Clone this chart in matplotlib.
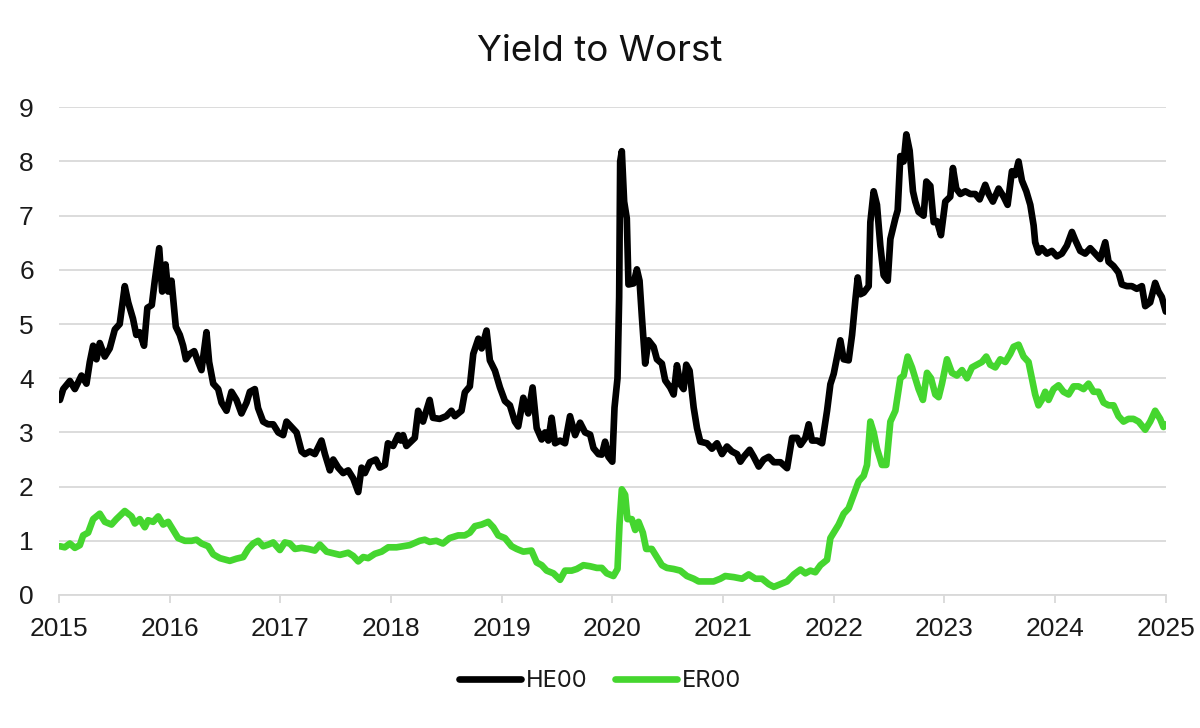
import matplotlib.pyplot as plt

# Dates as decimal years, yields in percent
he00_dates = [
    2015.01, 2015.04, 2015.10, 2015.145, 2015.205, 2015.25, 2015.28, 2015.31, 2015.34, 2015.37,
    2015.415, 2015.46, 2015.506, 2015.55, 2015.596, 2015.627, 2015.67, 2015.70, 2015.73, 2015.77,
    2015.80, 2015.84, 2015.867, 2015.907, 2015.934, 2015.964, 2015.988, 2016.018, 2016.057, 2016.093,
    2016.123, 2016.148, 2016.184, 2016.223, 2016.259, 2016.289, 2016.334, 2016.358, 2016.395, 2016.44,
    2016.47, 2016.515, 2016.56, 2016.605, 2016.65, 2016.696, 2016.726, 2016.771, 2016.80, 2016.846,
    2016.89, 2016.937, 2016.982, 2017.027, 2017.057, 2017.102, 2017.148, 2017.193, 2017.223, 2017.268,
    2017.313, 2017.373, 2017.404, 2017.449, 2017.479, 2017.524, 2017.569, 2017.614, 2017.66, 2017.705,
    2017.735, 2017.765, 2017.81, 2017.864, 2017.90, 2017.946, 2017.973, 2018.02, 2018.066, 2018.09,
    2018.11, 2018.14, 2018.216, 2018.246, 2018.29, 2018.35, 2018.38, 2018.44, 2018.50, 2018.547,
    2018.578, 2018.638, 2018.668, 2018.713, 2018.744, 2018.79, 2018.82, 2018.864, 2018.894, 2018.94,
    2018.985, 2019.03, 2019.075, 2019.12, 2019.15, 2019.196, 2019.241, 2019.28, 2019.317, 2019.362,
    2019.392, 2019.422, 2019.452, 2019.483, 2019.528, 2019.573, 2019.618, 2019.664, 2019.709, 2019.754,
    2019.80, 2019.83, 2019.875, 2019.905, 2019.935, 2019.965, 2020.0, 2020.02, 2020.047, 2020.062,
    2020.071, 2020.086, 2020.107, 2020.131, 2020.146, 2020.192, 2020.222, 2020.246, 2020.267, 2020.297,
    2020.327, 2020.373, 2020.403, 2020.448, 2020.478, 2020.523, 2020.554, 2020.584, 2020.614, 2020.644,
    2020.668, 2020.698, 2020.735, 2020.765, 2020.795, 2020.855, 2020.90, 2020.946, 2020.991, 2021.036,
    2021.08, 2021.127, 2021.157, 2021.187, 2021.241, 2021.278, 2021.323, 2021.368, 2021.413, 2021.459,
    2021.519, 2021.579, 2021.624, 2021.67, 2021.70, 2021.744, 2021.774, 2021.804, 2021.85, 2021.895,
    2021.94, 2021.97, 2022.0, 2022.03, 2022.06, 2022.09, 2022.135, 2022.166, 2022.196, 2022.217,
    2022.241, 2022.271, 2022.316, 2022.331, 2022.361, 2022.391, 2022.421, 2022.451, 2022.488, 2022.512,
    2022.557, 2022.578, 2022.602, 2022.632, 2022.656, 2022.686, 2022.716, 2022.737, 2022.767, 2022.812,
    2022.837, 2022.873, 2022.903, 2022.933, 2022.969, 2023.008, 2023.053, 2023.077, 2023.107, 2023.144,
    2023.189, 2023.234, 2023.279, 2023.318, 2023.369, 2023.40, 2023.438, 2023.49, 2023.535, 2023.571,
    2023.61, 2023.64, 2023.67, 2023.70, 2023.74, 2023.776, 2023.806, 2023.82, 2023.85, 2023.88,
    2023.926, 2023.971, 2024.016, 2024.061, 2024.107, 2024.152, 2024.182, 2024.227, 2024.272, 2024.317,
    2024.362, 2024.407, 2024.453, 2024.483, 2024.528, 2024.573, 2024.603, 2024.648, 2024.693, 2024.738,
    2024.784, 2024.814, 2024.859, 2024.904, 2024.934, 2024.964, 2025.0,
]
he00_values = [
    3.6, 3.8, 3.95, 3.8, 4.05, 3.9, 4.3, 4.6, 4.35, 4.65,
    4.4, 4.55, 4.9, 5.0, 5.7, 5.4, 5.1, 4.8, 4.85, 4.6,
    5.3, 5.35, 5.8, 6.4, 5.6, 6.1, 5.6, 5.8, 4.95, 4.8,
    4.6, 4.35, 4.45, 4.5, 4.3, 4.15, 4.85, 4.3, 3.9, 3.8,
    3.55, 3.4, 3.75, 3.6, 3.35, 3.55, 3.75, 3.8, 3.45, 3.2,
    3.15, 3.15, 3.0, 2.95, 3.2, 3.1, 3.0, 2.65, 2.6, 2.65,
    2.6, 2.85, 2.6, 2.3, 2.5, 2.35, 2.25, 2.3, 2.15, 1.9,
    2.35, 2.25, 2.45, 2.5, 2.35, 2.4, 2.8, 2.75, 2.95, 2.85,
    2.95, 2.75, 2.9, 3.4, 3.2, 3.6, 3.27, 3.25, 3.3, 3.4,
    3.3, 3.4, 3.74, 3.85, 4.45, 4.73, 4.55, 4.88, 4.33, 4.14,
    3.83, 3.58, 3.5, 3.2, 3.11, 3.64, 3.35, 3.83, 3.08, 2.87,
    3.0, 2.85, 3.27, 2.8, 2.85, 2.8, 3.3, 2.95, 3.18, 3.0,
    2.96, 2.71, 2.6, 2.59, 2.83, 2.55, 2.46, 3.46, 4.0, 5.5,
    8.0, 8.19, 7.26, 6.95, 5.73, 5.75, 6.01, 5.8, 5.14, 4.27,
    4.7, 4.58, 4.35, 4.27, 3.96, 3.83, 3.7, 4.24, 3.89, 3.8,
    4.25, 4.14, 3.46, 3.08, 2.83, 2.8, 2.7, 2.8, 2.6, 2.74,
    2.65, 2.6, 2.46, 2.55, 2.68, 2.55, 2.37, 2.5, 2.55, 2.45,
    2.45, 2.34, 2.9, 2.9, 2.77, 2.9, 3.15, 2.85, 2.85, 2.8,
    3.4, 3.89, 4.08, 4.39, 4.7, 4.35, 4.33, 4.8, 5.45, 5.86,
    5.55, 5.58, 5.7, 6.88, 7.45, 7.2, 6.45, 5.9, 5.8, 6.57,
    6.95, 7.1, 8.1, 8.0, 8.5, 8.2, 7.45, 7.26, 7.07, 7.0,
    7.63, 7.55, 6.88, 6.9, 6.64, 7.26, 7.35, 7.88, 7.5, 7.4,
    7.45, 7.4, 7.4, 7.3, 7.57, 7.4, 7.26, 7.5, 7.35, 7.2,
    7.82, 7.75, 8.0, 7.65, 7.45, 7.2, 6.82, 6.51, 6.32, 6.4,
    6.3, 6.35, 6.25, 6.3, 6.45, 6.7, 6.55, 6.35, 6.3, 6.4,
    6.3, 6.2, 6.51, 6.15, 6.07, 5.95, 5.73, 5.7, 5.7, 5.65,
    5.7, 5.33, 5.4, 5.76, 5.6, 5.5, 5.23,
]

er00_dates = [
    2015.01, 2015.054, 2015.10, 2015.145, 2015.19, 2015.22, 2015.265, 2015.31, 2015.37, 2015.416,
    2015.476, 2015.52, 2015.596, 2015.657, 2015.687, 2015.732, 2015.777, 2015.807, 2015.852, 2015.898,
    2015.943, 2015.988, 2016.033, 2016.078, 2016.139, 2016.199, 2016.244, 2016.289, 2016.349, 2016.395,
    2016.455, 2016.545, 2016.605, 2016.666, 2016.711, 2016.756, 2016.801, 2016.846, 2016.892, 2016.937,
    2016.997, 2017.042, 2017.087, 2017.133, 2017.193, 2017.253, 2017.313, 2017.358, 2017.419, 2017.479,
    2017.539, 2017.614, 2017.66, 2017.705, 2017.75, 2017.795, 2017.855, 2017.916, 2017.976, 2018.051,
    2018.17, 2018.26, 2018.306, 2018.35, 2018.41, 2018.47, 2018.53, 2018.608, 2018.668, 2018.713,
    2018.759, 2018.82, 2018.879, 2018.925, 2018.97, 2019.03, 2019.09, 2019.136, 2019.196, 2019.27,
    2019.317, 2019.362, 2019.407, 2019.468, 2019.528, 2019.573, 2019.633, 2019.679, 2019.739, 2019.80,
    2019.86, 2019.905, 2019.95, 2020.01, 2020.047, 2020.065, 2020.086, 2020.116, 2020.137, 2020.176,
    2020.207, 2020.237, 2020.276, 2020.306, 2020.357, 2020.403, 2020.448, 2020.493, 2020.554, 2020.614,
    2020.674, 2020.735, 2020.78, 2020.84, 2020.915, 2020.976, 2021.02, 2021.097, 2021.172, 2021.232,
    2021.293, 2021.353, 2021.413, 2021.459, 2021.519, 2021.579, 2021.64, 2021.70, 2021.744, 2021.789,
    2021.834, 2021.88, 2021.94, 2021.97, 2022.0, 2022.045, 2022.09, 2022.135, 2022.181, 2022.226,
    2022.271, 2022.301, 2022.331, 2022.361, 2022.391, 2022.436, 2022.475, 2022.512, 2022.557, 2022.602,
    2022.632, 2022.668, 2022.707, 2022.737, 2022.767, 2022.806, 2022.843, 2022.879, 2022.918, 2022.948,
    2022.978, 2023.023, 2023.068, 2023.113, 2023.159, 2023.204, 2023.249, 2023.294, 2023.339, 2023.378,
    2023.414, 2023.46, 2023.505, 2023.55, 2023.595, 2023.625, 2023.67, 2023.715, 2023.76, 2023.79,
    2023.82, 2023.85, 2023.88, 2023.911, 2023.941, 2023.986, 2024.031, 2024.076, 2024.122, 2024.167,
    2024.212, 2024.257, 2024.302, 2024.347, 2024.392, 2024.438, 2024.483, 2024.528, 2024.573, 2024.618,
    2024.663, 2024.708, 2024.754, 2024.814, 2024.859, 2024.904, 2024.949, 2024.979, 2025.0,
]
er00_values = [
    0.9, 0.88, 0.95, 0.87, 0.92, 1.1, 1.15, 1.4, 1.5, 1.35,
    1.3, 1.4, 1.55, 1.45, 1.32, 1.4, 1.25, 1.38, 1.35, 1.45,
    1.3, 1.35, 1.2, 1.05, 1.0, 1.0, 1.02, 0.95, 0.9, 0.75,
    0.68, 0.63, 0.67, 0.7, 0.85, 0.95, 1.0, 0.9, 0.93, 0.97,
    0.83, 0.97, 0.95, 0.85, 0.87, 0.85, 0.82, 0.93, 0.8, 0.77,
    0.74, 0.78, 0.72, 0.62, 0.7, 0.68, 0.76, 0.8, 0.88, 0.88,
    0.92, 1.0, 1.02, 0.98, 1.0, 0.95, 1.05, 1.1, 1.1, 1.15,
    1.27, 1.3, 1.35, 1.25, 1.1, 1.05, 0.9, 0.85, 0.8, 0.82,
    0.6, 0.55, 0.45, 0.4, 0.28, 0.45, 0.45, 0.48, 0.55, 0.53,
    0.5, 0.5, 0.4, 0.35, 0.48, 1.3, 1.95, 1.85, 1.4, 1.4,
    1.2, 1.35, 1.15, 0.85, 0.85, 0.7, 0.55, 0.5, 0.48, 0.45,
    0.35, 0.3, 0.25, 0.25, 0.25, 0.3, 0.35, 0.33, 0.3, 0.38,
    0.3, 0.3, 0.2, 0.15, 0.2, 0.25, 0.38, 0.47, 0.4, 0.45,
    0.42, 0.55, 0.65, 1.05, 1.15, 1.3, 1.5, 1.6, 1.85, 2.1,
    2.2, 2.4, 3.2, 3.0, 2.7, 2.4, 2.4, 3.2, 3.4, 4.0,
    4.05, 4.4, 4.2, 4.0, 3.8, 3.6, 4.1, 4.0, 3.7, 3.65,
    3.9, 4.35, 4.1, 4.05, 4.15, 4.0, 4.2, 4.25, 4.3, 4.4,
    4.25, 4.2, 4.35, 4.3, 4.45, 4.58, 4.62, 4.4, 4.3, 4.0,
    3.7, 3.5, 3.6, 3.75, 3.6, 3.8, 3.87, 3.75, 3.7, 3.85,
    3.85, 3.8, 3.9, 3.75, 3.75, 3.55, 3.5, 3.5, 3.3, 3.2,
    3.25, 3.25, 3.2, 3.05, 3.2, 3.4, 3.25, 3.1, 3.15,
]

years = list(range(2015, 2026))
yticks = list(range(0, 10))

GREEN = "#45d62f"
GRID = "#d9d9d9"
TEXT = "#1a1a1a"

# Inter for title/legend, an Arial-like face for the axis numbers
plt.rcParams["font.family"] = ["Inter", "DejaVu Sans"]
tick_font = {"family": ["Liberation Sans", "DejaVu Sans"], "size": 19}

fig = plt.figure(figsize=(12, 7.28), dpi=100)
ax = fig.add_axes([0.049, 0.1827, 0.9225, 0.6699])

ax.plot(he00_dates, he00_values, color="black", lw=4.8, label="HE00",
        solid_joinstyle="round", solid_capstyle="round")
ax.plot(er00_dates, er00_values, color=GREEN, lw=4.8, label="ER00",
        solid_joinstyle="round", solid_capstyle="round")

ax.set_xlim(2015, 2025)
ax.set_ylim(0, 9)
ax.set_xticks(years)
ax.set_xticklabels([str(y) for y in years], fontdict=tick_font)
ax.set_yticks(yticks)
ax.set_yticklabels([str(v) for v in yticks], fontdict=tick_font)

# light horizontal grid, no frame except the bottom axis
ax.grid(axis="y", color=GRID, lw=1.3)
ax.set_axisbelow(True)
for side in ["top", "right", "left"]:
    ax.spines[side].set_visible(False)
ax.spines["bottom"].set_color(GRID)
ax.spines["bottom"].set_linewidth(1.3)
ax.tick_params(axis="x", length=6, width=1.3, color=GRID, pad=10, labelcolor=TEXT)
ax.tick_params(axis="y", length=0, pad=18, labelcolor=TEXT)

fig.text(0.5, 1 - 61 / 728, "Yield to Worst", ha="center", va="baseline",
         fontsize=26.5, color="#111111")

fig.legend(loc="lower center", bbox_to_anchor=(0.5, 0.02), ncol=2, frameon=False,
           fontsize=17, handlelength=2.6, handletextpad=0.2, columnspacing=1.2,
           labelcolor=TEXT)

fig.savefig("out.png", dpi=100)
